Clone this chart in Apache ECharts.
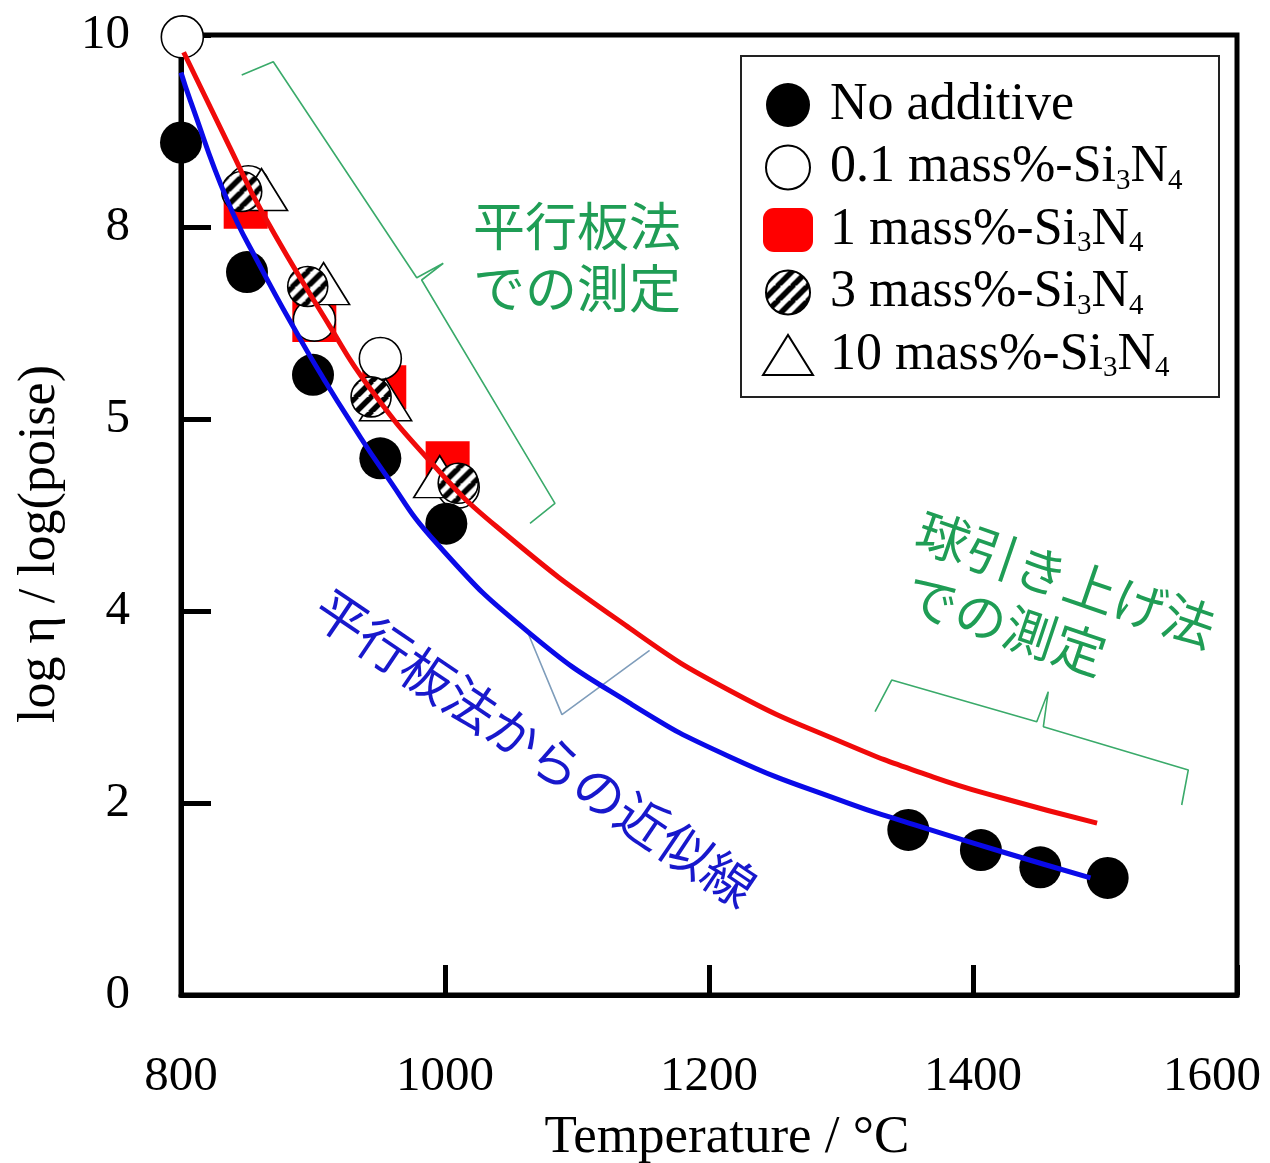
<!DOCTYPE html>
<html><head><meta charset="utf-8">
<script src="https://cdn.jsdelivr.net/npm/echarts@6/dist/echarts.min.js"></script>
<style>html,body{margin:0;padding:0;background:#fff}#c{width:1270px;height:1163px}</style>
</head><body><div id="c"></div>
<script>
// ---- tick labels ----
const xTickValues = [800, 1000, 1200, 1400, 1600];
const yTickLabels = ['0', '2', '4', '5', '8', '10'];

// ---- measured data ----
const noAdditiveX = [800, 850, 900, 951, 1001, 1351, 1406, 1451, 1502];
const noAdditiveY = [8.88, 7.53, 6.46, 5.59, 4.91, 1.72, 1.51, 1.33, 1.22];
const si01X = [801, 851, 901, 951, 1010];
const si01Y = [9.98, 8.42, 7.03, 6.63, 5.29];
const si1X = [849, 901, 954, 1002];
const si1Y = [8.21, 7.03, 6.33, 5.54];
const si3X = [846, 896, 944, 1010];
const si3Y = [8.37, 7.38, 6.23, 5.33];
const si10X = [861, 908, 955, 996];
const si10Y = [8.39, 7.41, 6.20, 5.40];

// ---- fitted curves ----
const fitAddX = [802, 837, 862, 913, 941, 988, 1039, 1140, 1216, 1303, 1370, 1420, 1494];
const fitAddY = [9.82, 8.83, 8.14, 6.96, 6.36, 5.57, 4.88, 3.82, 3.17, 2.62, 2.27, 2.06, 1.79];
const fitBaseX = [800, 807, 835, 860, 890, 908, 928, 953, 994, 1064, 1140, 1216, 1307, 1345, 1420, 1489];
const fitBaseY = [9.61, 9.32, 8.28, 7.59, 6.84, 6.42, 5.98, 5.46, 4.70, 3.77, 3.04, 2.48, 1.99, 1.82, 1.50, 1.22];

// ---- annotation guide lines (data coordinates) ----
const bracketPlateX = [846.0, 869.9, 978.6, 998.7, 982.3, 1083.3, 1064.4];
const bracketPlateY = [9.583, 9.722, 7.472, 7.622, 7.448, 5.122, 4.914];
const bracketBallX = [1325.8, 1338.4, 1448.3, 1457.0, 1453.3, 1563.1, 1558.1];
const bracketBallY = [2.951, 3.281, 2.847, 3.159, 2.795, 2.344, 1.979];
const pointerX = [1062, 1088.6, 1155];
const pointerY = [3.80, 2.92, 3.59];

const names = ['No additive', '0.1 mass%-Si3N4', '1 mass%-Si3N4', '3 mass%-Si3N4', '10 mass%-Si3N4'];
const zip = (xs, ys) => xs.map((x, i) => [x, ys[i]]);

// hatch pattern
const T = 15;
const hc = document.createElement('canvas');
hc.width = hc.height = T;
const g = hc.getContext('2d');
g.fillStyle = '#fff'; g.fillRect(0, 0, T, T);
g.strokeStyle = '#000'; g.lineWidth = 5.5;
g.beginPath();
for (const k of [-1, 0, 1]) { g.moveTo(k * T - 1, T + 1); g.lineTo(k * T + T + 1, -1); }
g.stroke();
const HATCH_SIZE = 40;
// scatter symbols are drawn at unit size 2 and scaled, so the pattern is scaled back
const hatchSeries = {image: hc, repeat: 'repeat', scaleX: 2 / HATCH_SIZE, scaleY: 2 / HATCH_SIZE};
const hatchLegend = {image: hc, repeat: 'repeat'};

const SERIF = 'Liberation Serif';
const CJK = 'Noto Sans CJK JP';
const GREEN = '#1f9d55';
const BLUE_TXT = '#1818cc';
const deg = d => d * Math.PI / 180;

const chart = echarts.init(document.getElementById('c'), null, {renderer: 'canvas'});
const guide = (name, xs, ys, color) => ({
  name, type: 'line', data: zip(xs, ys), symbol: 'none', silent: true, z: 3,
  lineStyle: {color, width: 1.6}, animation: false
});
const textEl = (x, y, rot, text, font, size, fill, align) => ({
  type: 'text', x, y, rotation: rot, z: 6,
  style: {text, fontFamily: font, fontSize: size, fill, align, textAlign: align, verticalAlign: 'middle', textVerticalAlign: 'middle'}
});

chart.setOption({
  animation: false,
  textStyle: {fontFamily: SERIF},
  grid: {left: 181, right: 33, top: 35, bottom: 168, containLabel: false, outerBoundsMode: 'none',
    show: true, borderColor: '#000', borderWidth: 5, backgroundColor: 'transparent'},
  xAxis: {
    type: 'value', min: 800, max: 1600, interval: 200,
    axisLine: {show: true, lineStyle: {color: '#000', width: 5}},
    axisTick: {show: true, inside: true, length: 30, lineStyle: {color: '#000', width: 5}},
    axisLabel: {show: true, color: '#000', fontSize: 49, fontFamily: SERIF, margin: 58,
      formatter: v => (xTickValues.indexOf(v) < 0 ? '' : (v === 1600 ? '{r|' + v + '}' : String(v))),
      rich: {r: {fontSize: 49, fontFamily: SERIF, color: '#000', padding: [0, 50, 0, 0]}}},
    splitLine: {show: false}
  },
  yAxis: {
    type: 'value', min: 0, max: 10, interval: 2,
    axisLine: {show: true, lineStyle: {color: '#000', width: 5}},
    axisTick: {show: true, inside: true, length: 30, lineStyle: {color: '#000', width: 5}},
    axisLabel: {show: true, color: '#000', fontSize: 49, fontFamily: SERIF, margin: 51,
      formatter: v => yTickLabels[Math.round(v / 2)]},
    splitLine: {show: false}
  },
  legend: {
    data: [
      {name: names[0], icon: 'circle'},
      {name: names[1], icon: 'circle'},
      {name: names[2], icon: 'roundRect'},
      {name: names[3], icon: 'circle', itemStyle: {color: hatchLegend}},
      {name: names[4], icon: 'path://M0,40 L25,0 L50,40 Z'}
    ],
    orient: 'vertical', left: 762, top: 77, padding: 0,
    itemWidth: 50, itemHeight: 44, itemGap: 6.5,
    symbolKeepAspect: true, selectedMode: false, z: 10,
    formatter: n => n.replace('Si3N4', 'Si{s|3}N{s|4}'),
    textStyle: {
      fontFamily: SERIF, fontSize: 52, color: '#000', lineHeight: 56, padding: [0, 0, 0, 12],
      rich: {s: {fontFamily: SERIF, fontSize: 29, lineHeight: 16, verticalAlign: 'bottom', color: '#000'}}
    }
  },
  graphic: [
    {type: 'rect', shape: {x: 741, y: 56, width: 478, height: 341}, style: {fill: '#fff', stroke: '#222', lineWidth: 2}, z: 5},
    textEl(40, 544, Math.PI / 2, 'log η / log(poise)', SERIF, 52, '#000', 'center'),
    textEl(727, 1138, 0, 'Temperature / °C', SERIF, 53, '#000', 'center'),
    textEl(473, 226, 0, '平行板法', CJK, 52, GREEN, 'left'),
    textEl(473, 288, 0, 'での測定', CJK, 52, GREEN, 'left'),
    textEl(918.7, 528.2, deg(-19), '球引き上げ法', CJK, 52, GREEN, 'left'),
    textEl(907.1, 591.5, deg(-18.5), 'での測定', CJK, 52, GREEN, 'left'),
    textEl(320.2, 602.1, deg(-34.1), '平行板法からの近似線', CJK, 52, BLUE_TXT, 'left')
  ],
  series: [
    {name: names[2], type: 'scatter', symbol: 'rect', symbolSize: 44, data: zip(si1X, si1Y),
      itemStyle: {color: '#ff0000', opacity: 1}, z: 2},
    {name: names[1], type: 'scatter', symbol: 'circle', symbolSize: 42, data: zip(si01X, si01Y),
      itemStyle: {color: '#fff', borderColor: '#000', borderWidth: 1.6, opacity: 1}, z: 2},
    {name: names[4], type: 'scatter', symbol: 'triangle', symbolSize: [52, 42], data: zip(si10X, si10Y),
      itemStyle: {color: '#fff', borderColor: '#000', borderWidth: 1.6, opacity: 1}, z: 2},
    {name: names[3], type: 'scatter', symbol: 'circle', symbolSize: HATCH_SIZE, data: zip(si3X, si3Y),
      itemStyle: {color: hatchSeries, borderColor: '#000', borderWidth: 1.6, opacity: 1}, z: 2},
    {name: names[0], type: 'scatter', symbol: 'circle', symbolSize: 42, data: zip(noAdditiveX, noAdditiveY),
      itemStyle: {color: '#000', opacity: 1}, z: 2},
    {name: 'fit-additive', type: 'line', data: zip(fitAddX, fitAddY), smooth: 0.5, symbol: 'none', silent: true,
      lineStyle: {color: '#f00a0a', width: 5}, z: 4},
    {name: 'fit-base', type: 'line', data: zip(fitBaseX, fitBaseY), smooth: 0.5, symbol: 'none', silent: true,
      lineStyle: {color: '#0a0ae8', width: 5}, z: 4},
    guide('bracket-plate', bracketPlateX, bracketPlateY, '#3aaa6a'),
    guide('bracket-ball', bracketBallX, bracketBallY, '#3aaa6a'),
    guide('pointer', pointerX, pointerY, '#7f9dbb')
  ]
});
</script>
</body></html>
